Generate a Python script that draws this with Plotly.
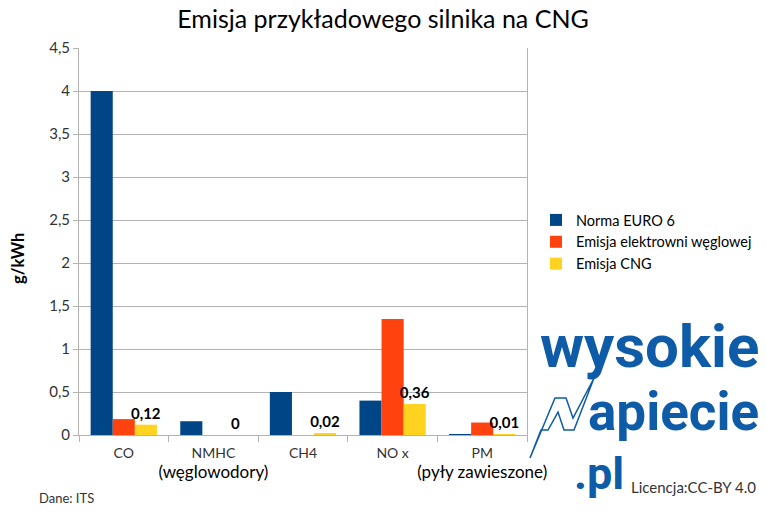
import plotly.graph_objects as go

categories = ["CO", "NMHC", "CH4", "NOx", "PM"]
first_lines = ["CO", "NMHC", "CH4", "NO x", "PM"]
second_lines = ["", "(węglowodory)", "", "", "(pyły zawieszone)"]
euro6 = [4.0, 0.16, 0.5, 0.4, 0.01]
coal = [0.185, 0.0, 0.0, 1.35, 0.145]
cng = [0.12, 0.0, 0.02, 0.36, 0.01]
cng_labels = ["0,12", "0", "0,02", "0,36", "0,01"]

tick_labels = []
for a, b in zip(first_lines, second_lines):
    t = f"<span style='font-size:14px'>{a}</span>"
    if b:
        t += f"<br><span style='font-size:17px;color:#000'>{b}</span>"
    tick_labels.append(t)

W, H = 766, 514
L, R, T, B = 79, 527, 48, 435


def px(x):
    return (x - L) / (R - L)


def py(y):
    return (B - y) / (B - T)


fig = go.Figure()
fig.add_bar(x=categories, y=euro6, name="Norma EURO 6", marker_color="#004586",
            marker_line_width=0)
fig.add_bar(x=categories, y=coal, name="Emisja elektrowni węglowej", marker_color="#ff420e",
            marker_line_width=0)
fig.add_bar(x=categories, y=cng, name="Emisja CNG", marker_color="#ffd320",
            marker_line_width=0, text=cng_labels, textposition="outside",
            constraintext="none",
            textfont=dict(family="Lato", size=15, color="#000", weight="bold"),
            cliponaxis=False)

fig.update_layout(
    width=W, height=H,
    margin=dict(l=L, r=W - R, t=T, b=H - B, autoexpand=False),
    paper_bgcolor="white", plot_bgcolor="white",
    barmode="group", bargap=0.26, bargroupgap=0,
    separators=", ",
    uniformtext=dict(mode=False),
    font=dict(family="Lato", size=14, color="#333"),
    title=dict(text="Emisja przykładowego silnika na CNG", x=0.5, xanchor="center",
               y=1 - 19 / H, yanchor="middle",
               font=dict(family="Lato", size=25, color="#000")),
    showlegend=True,
    legend=dict(x=px(536), y=py(204), xanchor="left", yanchor="top",
                font=dict(family="Lato", size=14.5, color="#000"),
                itemwidth=30, tracegroupgap=0, bgcolor="rgba(0,0,0,0)"),
    xaxis=dict(tickvals=categories, ticktext=tick_labels, showgrid=False,
               showline=True, linecolor="#b3b3b3", linewidth=1,
               ticks="outside", tickson="boundaries", ticklen=6, tickcolor="#b3b3b3",
               tickfont=dict(family="Lato", size=15, color="#333"),
               ticklabelstandoff=4,
               tickangle=0, automargin=False,
               range=[-0.5, 4.5], mirror=False),
    yaxis=dict(range=[0, 4.5], dtick=0.5, showgrid=True, gridcolor="#b3b3b3",
               showline=True, linecolor="#b3b3b3", linewidth=1, mirror=True,
               ticks="outside", ticklen=5, tickcolor="#b3b3b3",
               tickfont=dict(family="Lato", size=15, color="#333"),
               automargin=False, zeroline=False),
)

annotations = [
    dict(text="<b>g/kWh</b>", x=px(18), y=py(259), textangle=-90,
         font=dict(family="Lato", size=16.5, color="#000")),
    dict(text="Dane: ITS", x=px(37), y=py(498), xanchor="left",
         font=dict(family="Lato", size=13, color="#333")),
    dict(text="Licencja:CC-BY 4.0", x=px(758), y=py(487), xanchor="right",
         font=dict(family="Lato", size=15, color="#333")),
    dict(text="<b>wysokie</b>", x=px(761), y=py(346), xanchor="right",
         font=dict(family="Roboto", size=60, color="#0e5ba8", weight=900)),
    dict(text="<b>apiecie</b>", x=px(761), y=py(412), xanchor="right",
         font=dict(family="Roboto", size=53, color="#0e5ba8", weight=900)),
    dict(text="<b>.pl</b>", x=px(572), y=py(473), xanchor="left",
         font=dict(family="Roboto", size=45, color="#0e5ba8", weight=900)),
]
for a in annotations:
    a.update(xref="paper", yref="paper", showarrow=False, yanchor="middle")
    if "xanchor" not in a:
        a["xanchor"] = "center"
fig.update_layout(annotations=annotations)

bolt = [(530, 458), (555, 398), (566, 398), (573, 418), (594, 378), (574, 430),
        (564, 430), (558, 412), (548, 430), (541, 430)]
path = "M " + " L ".join(f"{px(x):.4f},{py(y):.4f}" for x, y in bolt) + " Z"
fig.add_shape(type="path", path=path, xref="paper", yref="paper",
              line=dict(color="#0e5ba8", width=1.5), fillcolor="rgba(0,0,0,0)")

fig.write_html("out.html")
